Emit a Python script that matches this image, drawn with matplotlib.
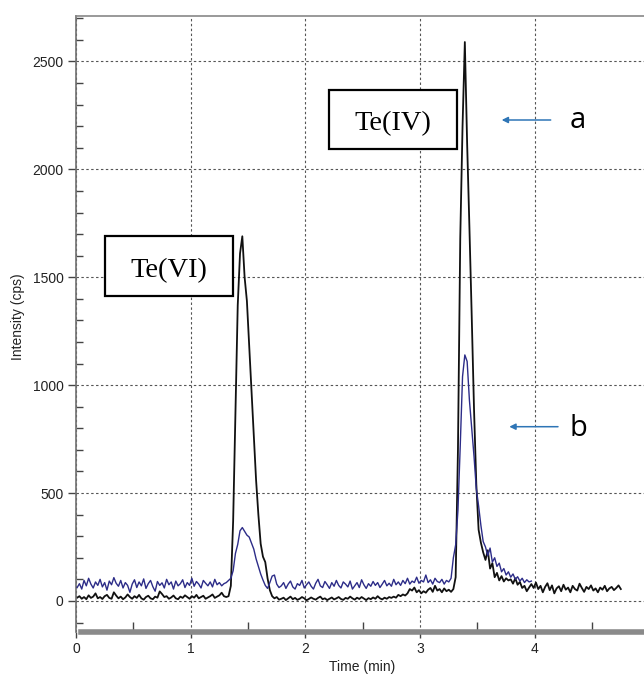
import numpy as np
import matplotlib
matplotlib.use('Agg')
import matplotlib.pyplot as plt
from matplotlib.patches import Rectangle
from matplotlib.ticker import MultipleLocator, FixedLocator

# ---------------- data ----------------
t_start = 0.01      # min, first sample
t_step = 0.02       # min, sampling interval

# trace a (black)
black_base_1 = [15, 22, 10, 18, 8, 26, 14, 20, 35, 12,
                18, 9, 22, 28, 14, 10, 40, 25, 12, 20,
                8, 16, 30, 18, 10, 22, 14, 28, 12, 6,
                18, 24, 12, 8, 20, 15, 44, 32, 18, 22,
                10, 16, 25, 12, 8, 20, 14, 26, 18, 10,
                22, 15, 28, 12, 18, 24, 10, 16, 22, 30,
                14, 20, 26, 38, 22]
black_peak_vi = [18, 22, 70, 370, 860, 1370, 1610, 1690, 1500, 1390,
                 1180, 970, 760, 560, 400, 265, 205, 180, 105, 50, 22]
black_base_2 = [12, 18, 6, 10, 15, 4, 12, 20, 8, 14,
                5, 10, 18, 12, 3, 9, 16, 10, 6, 14,
                20, 8, 12, 4, 10, 16, 7, 12, 18, 9,
                5, 14, 10, 20, 12, 6, 15, 9, 18, 11,
                4, 13, 8, 16, 10, 22, 12, 7, 15, 10,
                18, 14]
black_base_3 = [20, 15, 28, 22, 30, 25, 35, 55, 48, 62,
                40, 50, 35, 45, 38, 52, 60, 42, 70, 48,
                55, 40, 58, 45, 52, 42, 55]
black_peak_iv = [110, 700, 1680, 2200, 2590, 2120, 1730, 1320, 890, 540,
                 330, 270, 225, 190, 235, 150, 175, 110, 130, 95,
                 115, 90, 105, 95, 100, 80, 105, 75, 88, 60,
                 70, 45, 62]
black_tail = [78, 60, 85, 55, 70, 40, 65, 82, 50, 72,
              35, 58, 68, 45, 75, 52, 62, 40, 70, 55,
              48, 80, 60, 42, 65, 55, 72, 48, 58, 40,
              62, 52, 70, 45, 58, 65, 50, 60, 72, 55]

# trace b (blue)
blue_base_1 = [62, 80, 55, 95, 70, 105, 78, 60, 88, 72,
               100, 65, 85, 50, 92, 75, 108, 82, 68, 95,
               60, 85, 72, 40, 78, 98, 62, 88, 70, 102,
               58, 80, 95, 66, 45, 90, 72, 84, 60, 100,
               75, 88, 55, 92, 70, 80, 98, 62, 85, 72,
               105, 68, 90, 78, 60, 95, 82, 70, 88, 65,
               100, 75, 85, 70, 80]
blue_peak_vi = [85, 95, 105, 140, 220, 262, 325, 340, 322, 305,
                296, 268, 240, 195, 160, 125, 97, 72, 58, 85,
                115, 120, 78, 62]
blue_base_2 = [70, 85, 58, 78, 92, 65, 55, 80, 72, 95,
               60, 75, 88, 68, 55, 82, 100, 70, 62, 90,
               75, 58, 85, 68, 95, 72, 60, 88, 78, 65,
               92, 55, 70, 85, 62, 98, 75, 58, 80, 68,
               90, 72, 85, 62, 78, 95, 70, 82, 68, 100,
               75, 88, 72, 95, 80, 105, 78, 92, 85, 110,
               82, 95, 88, 120, 85, 98, 78, 105, 90, 85,
               100, 78, 95, 88, 105]
blue_peak_iv = [200, 260, 420, 720, 1040, 1140, 1110, 930, 800, 670,
                520, 440, 350, 275, 250, 210, 245, 180, 200, 160,
                175, 135, 150, 120, 135, 110, 125, 100, 112, 92,
                105, 85, 98, 88, 92]

x_ticks = [0, 1, 2, 3, 4]
y_ticks = [0, 500, 1000, 1500, 2000, 2500]
x_label = "Time (min)"
y_label = "Intensity (cps)"
peak_labels = ["Te(VI)", "Te(IV)"]
trace_labels = ["a", "b"]

black = np.array(black_base_1 + black_peak_vi + black_base_2 + black_base_3
                 + black_peak_iv + black_tail, dtype=float)
blue = np.array(blue_base_1 + blue_peak_vi + blue_base_2 + blue_peak_iv, dtype=float)
t_black = t_start + t_step * np.arange(len(black))
t_blue = t_start + t_step * np.arange(len(blue))

# ---------------- figure ----------------
W, H = 644, 675
fig = plt.figure(figsize=(W / 100, H / 100), dpi=100)
fig.patch.set_facecolor('white')

def fx(px):
    return px / W

def fy(py):
    return 1 - py / H

ax = fig.add_axes([fx(76), fy(632), (644 - 76) / W, (632 - 15.5) / H])
ax.set_xlim(0, 4.952)
ax.set_ylim(-144, 2713)

ax.plot(t_blue, blue, color='#2c2c88', lw=1.0, zorder=3)
ax.plot(t_black, black, color='#111111', lw=1.3, zorder=2)

# grid
ax.set_axisbelow(True)
ax.xaxis.set_major_locator(FixedLocator(x_ticks))
ax.yaxis.set_major_locator(FixedLocator(y_ticks))
ax.xaxis.set_minor_locator(MultipleLocator(0.5))
ax.yaxis.set_minor_locator(MultipleLocator(100))
ax.grid(which='major', color='#555555', lw=0.8, linestyle=(0, (2.2, 2.2)))

ax.set_xticklabels([str(v) for v in x_ticks])
ax.set_yticklabels([str(v) for v in y_ticks])

tick_font = 'Liberation Sans'
for lab in ax.get_xticklabels() + ax.get_yticklabels():
    lab.set_fontfamily(tick_font)
    lab.set_fontsize(10)
    lab.set_color('#222222')

ax.tick_params(axis='y', which='major', direction='out', length=6, width=1,
               color='#444444', pad=3)
ax.tick_params(axis='y', which='minor', direction='in', length=5, width=1,
               color='#444444')
ax.tick_params(axis='x', which='major', direction='out', length=4, width=1,
               color='#444444', pad=3)
ax.tick_params(axis='x', which='minor', direction='in', length=7, width=1,
               color='#444444')

# spines
ax.spines['right'].set_visible(False)
ax.spines['left'].set_color('#707070')
ax.spines['left'].set_linewidth(1.2)
ax.spines['top'].set_color('#888888')
ax.spines['top'].set_linewidth(1.2)
ax.spines['bottom'].set_color('#8a8a8a')
ax.spines['bottom'].set_linewidth(4)
ax.spines['bottom'].set_bounds(0.045, 4.952)

# axis labels
ax.set_xlabel(x_label, fontfamily=tick_font, fontsize=10, color='#222222')
ax.set_ylabel(y_label, fontfamily=tick_font, fontsize=10, color='#222222')
ax.xaxis.set_label_coords((362 - 76) / 568, (632 - 667) / 616.5)
ax.xaxis.label.set_va('center')
ax.yaxis.set_label_coords((18 - 76) / 568, (632 - 317) / 616.5)
ax.yaxis.label.set_va('center')

# peak label boxes
boxes = [
    (105, 236, 233, 296, 169, 271),   # Te(VI)
    (329, 90, 457, 149, 393, 124),    # Te(IV)
]
for (x0, y0, x1, y1, cx, cy), lab in zip(boxes, peak_labels):
    rect = Rectangle((fx(x0), fy(y1)), fx(x1) - fx(x0), fy(y0) - fy(y1),
                     transform=fig.transFigure, facecolor='white',
                     edgecolor='black', lw=1.6, zorder=5)
    fig.add_artist(rect)
    fig.text(fx(cx), fy(cy), lab, ha='center', va='center',
             fontfamily='Liberation Serif', fontsize=20.5, color='black',
             zorder=6)

# arrows with trace labels
arrow_col = '#2E75B6'
arrows = [
    (550.7, 501.7, 120, 570, 128.5),   # a
    (558.0, 509.3, 426.7, 570, 436),   # b
]
for (xs, xe, ya, tx, ty), lab in zip(arrows, trace_labels):
    ax.annotate('', xy=(fx(xe), fy(ya)), xytext=(fx(xs), fy(ya)),
                xycoords='figure fraction', textcoords='figure fraction',
                arrowprops=dict(arrowstyle='-|>', color=arrow_col, lw=1.1,
                                mutation_scale=9, shrinkA=0, shrinkB=0))
    fig.text(fx(tx), fy(ty), lab, ha='left', va='baseline',
             fontfamily='Open Sans', fontsize=21, color='black')

fig.savefig('out.png', dpi=100)
